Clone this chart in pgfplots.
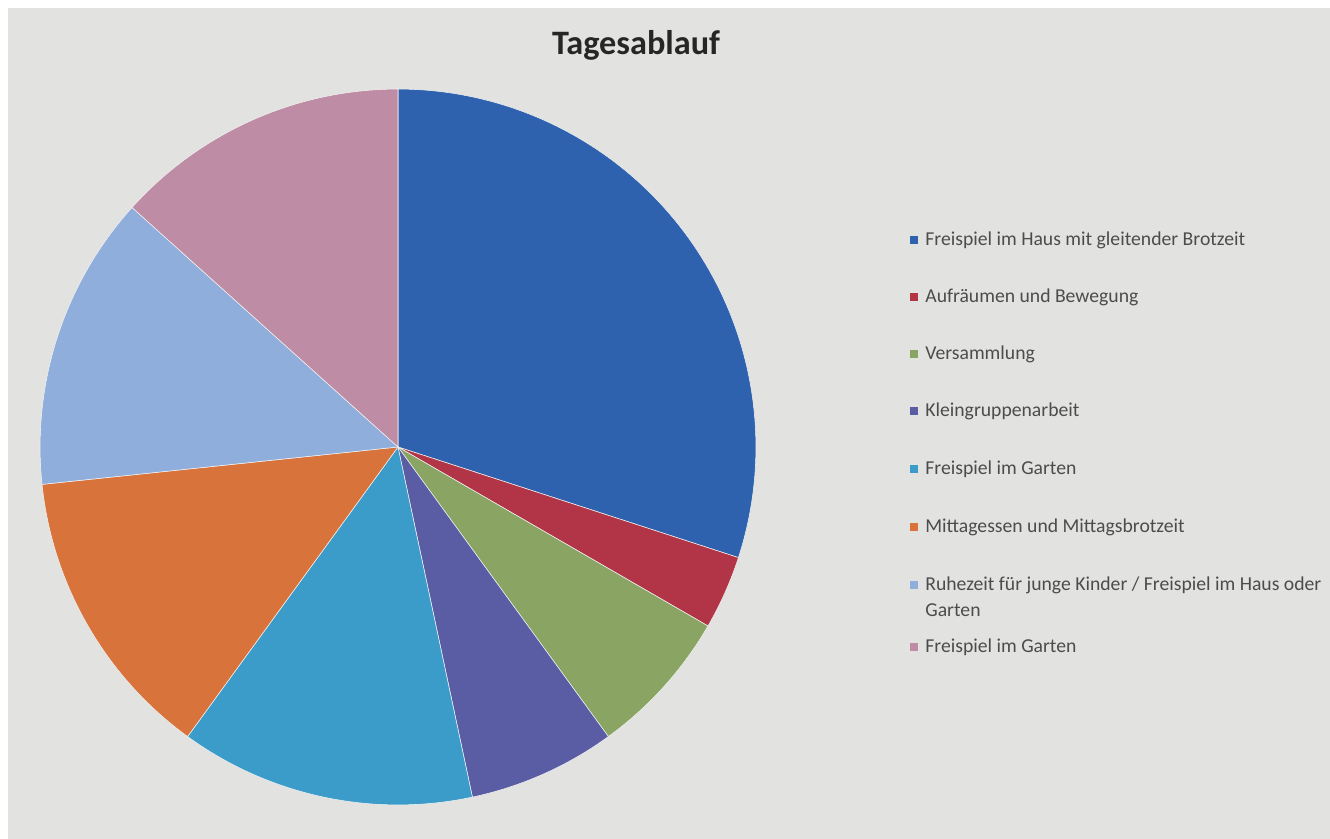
\documentclass[border=0pt]{standalone}
\usepackage{pgfplots}
\usepackage{pgfplotstable}
\pgfplotsset{compat=1.18}
\usepackage{fontspec}
\setmainfont{Carlito}

% Farben wie im Foto (Excel-Palette, etwas abgedunkelt)
\definecolor{hg}{HTML}{E2E2E0}
\definecolor{c0}{HTML}{2F62AE}
\definecolor{c1}{HTML}{B23547}
\definecolor{c2}{HTML}{8AA464}
\definecolor{c3}{HTML}{5A5CA4}
\definecolor{c4}{HTML}{3C9CC9}
\definecolor{c5}{HTML}{D8733B}
\definecolor{c6}{HTML}{8FAEDB}
\definecolor{c7}{HTML}{BF8CA6}

% Dauer in Minuten
\pgfplotstableread{
wert
135
15
30
30
60
60
60
60
}\daten

% Legendeneintrag: Farbe, y in Bildpunkten (von oben), Text
\newcommand\eintrag[3]{%
  \fill[#1] (axis cs:910,{835-#2}) rectangle (axis cs:918,{843-#2});
  \node[anchor=west, font=\fontsize{11.2}{14}\selectfont, text=black!70, inner sep=0pt]
    at (axis cs:925,{839-#2}) {#3};
}

\begin{document}
\begin{tikzpicture}

% Winkel aus den Werten (Start oben, im Uhrzeigersinn)
\xdef\winkel{90}
\pgfplotsforeachungrouped \i in {0,...,7}{%
  \pgfplotstablegetelem{\i}{wert}\of\daten
  \pgfmathsetmacro\ende{\winkel-0.8*\pgfplotsretval}%
  \expandafter\xdef\csname a\i\endcsname{\winkel}%
  \expandafter\xdef\csname b\i\endcsname{\ende}%
  \xdef\winkel{\ende}%
}

% Koordinaten in Bildpunkten (y nach oben)
\begin{axis}[
x=0.02cm, y=0.02cm,
xmin=0, xmax=1330,
ymin=0, ymax=839,
hide axis,
clip=false,
]

\fill[white] (axis cs:0,0) rectangle (axis cs:1330,839);
\fill[hg] (axis cs:8,0) rectangle (axis cs:1330,831);

\pgfplotsinvokeforeach{0,...,7}{
  \fill[c#1, draw=white!60!hg, line width=0.3pt]
    (axis cs:398,392) -- ([shift={(\csname a#1\endcsname:7.16cm)}]axis cs:398,392)
    arc[start angle=\csname a#1\endcsname, end angle=\csname b#1\endcsname, radius=7.16cm]
    -- cycle;
}

\node[font=\bfseries\fontsize{19.5}{22}\selectfont, text=black!85] at (axis cs:636,794) {Tagesablauf};

\eintrag{c0}{240}{Freispiel im Haus mit gleitender Brotzeit}
\eintrag{c1}{297}{Aufräumen und Bewegung}
\eintrag{c2}{354}{Versammlung}
\eintrag{c3}{411}{Kleingruppenarbeit}
\eintrag{c4}{469}{Freispiel im Garten}
\eintrag{c5}{527}{Mittagessen und Mittagsbrotzeit}
\eintrag{c6}{585}{Ruhezeit für junge Kinder / Freispiel im Haus oder}
\node[anchor=west, font=\fontsize{11.2}{14}\selectfont, text=black!70, inner sep=0pt]
  at (axis cs:925,{839-610}) {Garten};
\eintrag{c7}{647}{Freispiel im Garten}

\end{axis}
\end{tikzpicture}
\end{document}
